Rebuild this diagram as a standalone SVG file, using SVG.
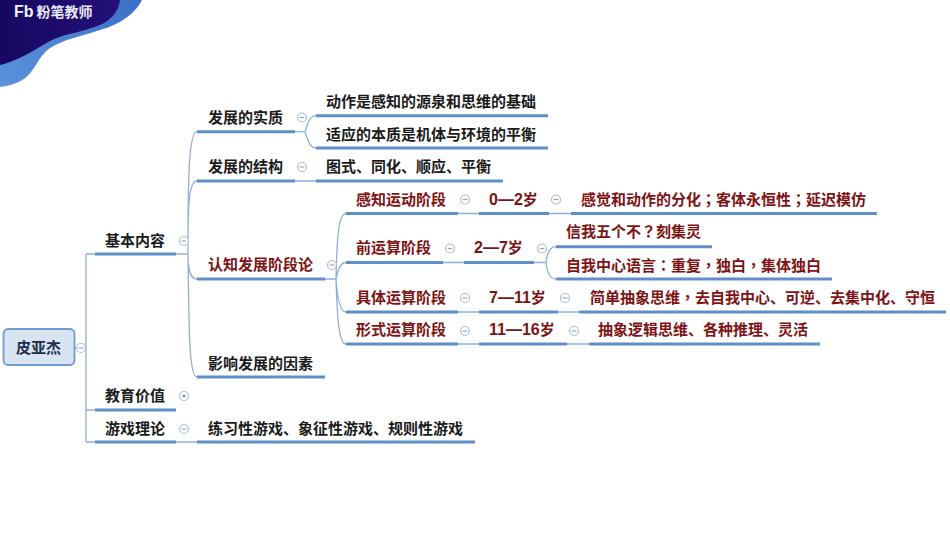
<svg xmlns="http://www.w3.org/2000/svg" width="950" height="535" viewBox="0 0 950 535">
<style>
text{font-family:"Noto Sans CJK SC","Noto Sans CJK TC",sans-serif;font-size:15px;font-weight:700;fill:#1a1a1a;transform:translateY(-.7px)}
.r text,text.r{fill:#7d1315}
.zh{font-family:"Noto Sans CJK TC",sans-serif}
.n{font-family:"Liberation Sans",sans-serif;font-size:16px}
.sui{font-family:"Noto Sans CJK SC",sans-serif;font-size:15px}
.thin{fill:none;stroke:#8fb0d6;stroke-width:1.3}
.u{fill:none;stroke:#5f8fc6;stroke-width:3}
.c{fill:#fff;stroke:#a9bfd8;stroke-width:1.2}
.m{fill:none;stroke:#8ba4c2;stroke-width:1.1}
</style>
<defs>
<g id="minus"><circle class="c" r="4.5"/><path class="m" d="M-2.4 0H2.4"/></g>
<g id="plus"><circle class="c" r="4.5"/><circle r="1.6" fill="#7f97b5"/></g>
<linearGradient id="navy" x1="0" y1="0" x2="1" y2="0"><stop offset="0" stop-color="#16085f"/><stop offset="1" stop-color="#24107a"/></linearGradient>
<linearGradient id="wave" x1="0" y1="1" x2="1" y2="0"><stop offset="0" stop-color="#5b93dc"/><stop offset="1" stop-color="#3a6fc6"/></linearGradient>
</defs>
<rect width="950" height="535" fill="#fff"/>
<g id="logo">
<path d="M0 0H142C136 12 122 24 100 30C82 36 62 40 50 48C38 56 36 70 24 79C16 84 8 86 0 87Z" fill="url(#wave)"/>
<path d="M0 0H120C119 10 112 20 100 25C84 32 66 33 50 41C34 50 18 61 0 65Z" fill="url(#navy)"/>
<text x="14" y="17.500" style="font-family:'Liberation Sans',sans-serif;font-size:16px;fill:#f2f2fa">Fb</text>
<text x="36.5" y="17.500" style="font-size:14px;fill:#e8e8f4">粉笔教师</text>
</g>
<g id="connectors">
<path class="thin" d="M74 348H86M86 254V442M86 254H95M86 410H95M86 442H95"/>
<path class="thin" d="M176 254H188M188 254C188 190 188 131.7 197 131.7M188 254C188 210 188 181 197 181M188 254C188 270 190 279 197 279M188 254C189 330 189 377 197 377M176 442H197"/>
<path class="thin" d="M295 131.7H305M305 131.7C308 122 310 115.7 316 115.7M305 131.7C308 141 310 148 316 148M295 181H316"/>
<path class="thin" d="M325 279H336M336 279C337 240 338 213.5 346 213.5M336 279C338 270 340 262.5 346 262.5M336 279C337 295 339 312 346 312M336 279C337 310 338 344 346 344"/>
<path class="thin" d="M458 213.5H479M549 213.5H571M443 262.5H464M534 262.5H546M546 262.5C547 252 550 246.7 556 246.7M546 262.5C547 272 550 279 556 279M458 312H479M558 312H579M458 344H479M567 344H589"/>
<path class="u" d="M95 254H176M95 410H176M95 442H176M197 131.7H295M197 181H295M197 279H325M197 377H325M197 442H475"/>
<path class="u" d="M316 115.7H548M316 148H548M316 181H503"/>
<path class="u" d="M346 213.5H458M479 213.5H549M571 213.5H877M346 262.5H443M464 262.5H534M556 246.7H712M556 279H832M346 312H458M479 312H558M579 312H946M346 344H458M479 344H567M589 344H820"/>
</g>
<g id="root"><rect x="3.5" y="329" width="71" height="36" rx="4.5" fill="#d9e4f2" stroke="#6f9bd0" stroke-width="1.8"/><text x="38.5" y="354" text-anchor="middle" style="fill:#1f2f4a">皮亚杰</text><use href="#minus" x="81" y="348"/></g>
<g id="n1"><text x="105" y="246.500">基本内容</text><use href="#minus" x="184" y="241"/></g>
<g id="n2"><text x="105" y="401.500">教育价值</text><use href="#plus" x="184" y="396"/></g>
<g id="n3"><text x="105" y="434.500">游戏理论</text><use href="#minus" x="184" y="429"/></g>
<g id="n4"><text x="208" y="123.500">发展的实质</text><use href="#minus" x="302" y="117.500"/></g>
<g id="n5"><text x="208" y="173">发展的结构</text><use href="#minus" x="302" y="167"/></g>
<g id="n6"><text class="r" x="208" y="270.500">认知发展阶段论</text><use href="#minus" x="332" y="265"/></g>
<g id="n7"><text x="208" y="369.500">影响发展的因素</text></g>
<g id="n8"><text x="326" y="107.500">动作是感知的源泉和思维的基础</text></g>
<g id="n9"><text x="326" y="140.500">适应的本质是机体与环境的平衡</text></g>
<g id="n10"><text x="326" y="172.500">图式、同化、顺应、平衡</text></g>
<g id="n11"><text x="208" y="434.500">练习性游戏、象征性游戏、规则性游戏</text></g>
<g id="n12" class="r"><text x="356" y="205.500">感知运动阶段</text><use href="#minus" x="465" y="199.500"/></g>
<g id="n13" class="r"><text x="489" y="205.500" class="n">0—2<tspan class="sui">岁</tspan></text><use href="#minus" x="556" y="199.500"/></g>
<g id="n14" class="r"><text x="581" y="205.500">感觉和动作的分化<tspan class="zh">；</tspan>客体永恒性<tspan class="zh">；</tspan>延迟模仿</text></g>
<g id="n15" class="r"><text x="356" y="253.500">前运算阶段</text><use href="#minus" x="450" y="248.500"/></g>
<g id="n16" class="r"><text x="474" y="253.500" class="n">2—7<tspan class="sui">岁</tspan></text><use href="#minus" x="542" y="248.500"/></g>
<g id="n17" class="r"><text x="566" y="238">信我五个不<tspan class="zh">？</tspan>刻集灵</text></g>
<g id="n18" class="r"><text x="566" y="271.500">自我中心语言<tspan class="zh">：</tspan>重复<tspan class="zh">，</tspan>独白<tspan class="zh">，</tspan>集体独白</text></g>
<g id="n19" class="r"><text x="356" y="303.500">具体运算阶段</text><use href="#minus" x="465" y="298"/></g>
<g id="n20" class="r"><text x="489" y="303.500" class="n">7—11<tspan class="sui">岁</tspan></text><use href="#minus" x="565" y="298"/></g>
<g id="n21" class="r"><text x="590" y="303.500">简单抽象思维<tspan class="zh">，</tspan>去自我中心、可逆、去集中化、守恒</text></g>
<g id="n22" class="r"><text x="356" y="336">形式运算阶段</text><use href="#minus" x="465" y="331"/></g>
<g id="n23" class="r"><text x="489" y="336" class="n">11—16<tspan class="sui">岁</tspan></text><use href="#minus" x="574" y="331"/></g>
<g id="n24" class="r"><text x="598" y="336">抽象逻辑思维、各种推理、灵活</text></g>
</svg>
